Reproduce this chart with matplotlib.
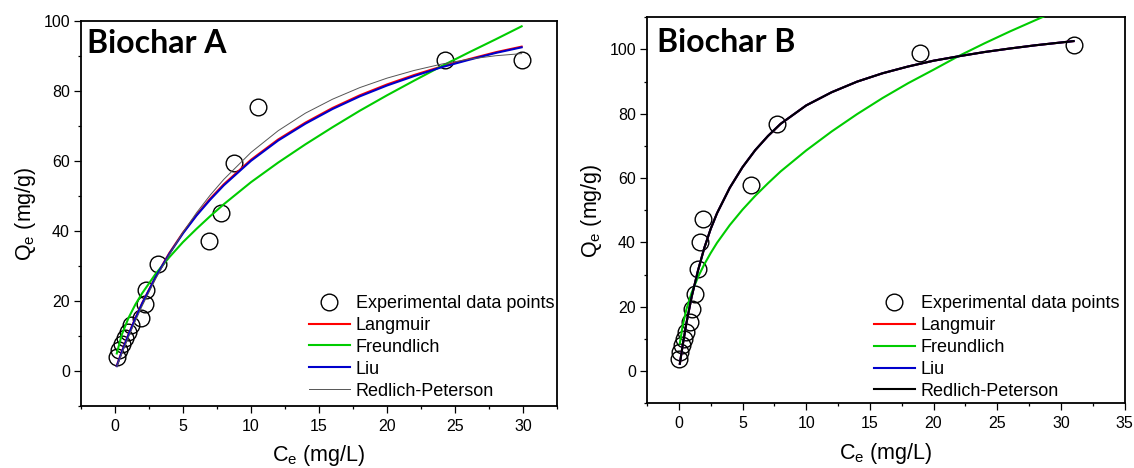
import matplotlib
matplotlib.use("Agg")
import matplotlib.pyplot as plt
from matplotlib.lines import Line2D
from matplotlib.ticker import MultipleLocator

plt.rcParams['font.family'] = ['Liberation Sans', 'DejaVu Sans']
plt.rcParams['mathtext.default'] = 'regular'

# ---------------- Biochar A ----------------
a_ce = [0.12, 0.30, 0.50, 0.73, 0.95, 1.20, 1.90, 2.20, 2.25, 3.17, 6.90, 7.82, 8.74, 10.50, 24.30, 29.90]
a_qe = [4.0, 5.9, 7.6, 9.3, 11.2, 13.2, 15.0, 19.0, 23.1, 30.6, 37.2, 45.0, 59.4, 75.4, 88.9, 88.9]

a_fit_x = [0.13, 0.5, 1, 1.5, 2, 3, 4, 5, 6, 7, 8, 10, 12, 14, 16, 18, 20, 22, 24, 26, 28, 29.9]
a_langmuir = [1.5, 5.5, 10.5, 15.1, 19.4, 27.0, 33.7, 39.5, 44.6, 49.2, 53.3, 60.3, 66.1, 70.9, 75.1, 78.7, 81.8, 84.5, 86.9, 89.0, 91.0, 92.6]
a_freundlich = [5.0, 10.4, 15.2, 19.0, 22.2, 27.8, 32.5, 36.8, 40.6, 44.2, 47.6, 53.9, 59.5, 64.7, 69.6, 74.3, 78.7, 82.9, 87.0, 90.9, 94.7, 98.4]
a_liu = [1.4, 5.4, 10.4, 15.0, 19.3, 26.9, 33.5, 39.3, 44.4, 48.9, 53.0, 60.0, 65.8, 70.6, 74.8, 78.4, 81.5, 84.2, 86.7, 88.8, 90.8, 92.4]
a_redlich = [1.2, 5.0, 9.8, 14.3, 18.6, 26.4, 33.3, 39.6, 45.2, 50.2, 54.7, 62.4, 68.6, 73.6, 77.6, 80.9, 83.6, 85.8, 87.6, 89.0, 90.0, 90.6]

# ---------------- Biochar B ----------------
b_ce = [0.05, 0.13, 0.25, 0.38, 0.56, 0.86, 1.05, 1.25, 1.48, 1.69, 1.92, 5.70, 7.68, 18.97, 31.05]
b_qe = [3.8, 5.9, 8.0, 10.0, 12.1, 15.2, 19.3, 23.9, 31.6, 40.2, 47.3, 57.9, 76.8, 99.0, 101.3]

b_fit_x = [0.08, 0.3, 0.6, 1.0, 1.5, 2.0, 2.5, 3.0, 4.0, 5.0, 6.0, 7.0, 8.0, 10, 12, 14, 16, 18, 20, 22, 24, 26, 28, 31]
b_langmuir = [2.3, 8.0, 15.0, 23.0, 31.2, 38.3, 44.2, 49.1, 57.0, 63.4, 68.7, 73.1, 76.9, 82.6, 86.7, 90.0, 92.6, 94.7, 96.5, 97.9, 99.2, 100.3, 101.3, 102.6]
b_freundlich = [8.6, 14.1, 19.3, 24.3, 29.2, 33.2, 36.7, 39.9, 45.4, 50.2, 54.5, 58.4, 62.1, 68.6, 74.5, 79.9, 84.9, 89.5, 93.7, 98.0, 101.9, 105.6, 109.1, 114.3]
b_liu = [2.3, 8.0, 15.0, 23.0, 31.2, 38.3, 44.2, 49.1, 57.0, 63.4, 68.7, 73.1, 76.9, 82.6, 86.7, 90.0, 92.6, 94.7, 96.5, 97.9, 99.2, 100.3, 101.3, 102.6]
b_redlich = [2.3, 8.0, 15.0, 23.0, 31.2, 38.3, 44.2, 49.1, 57.0, 63.4, 68.7, 73.1, 76.9, 82.6, 86.7, 90.0, 92.6, 94.7, 96.5, 97.9, 99.2, 100.3, 101.3, 102.6]

legend_labels = ["Experimental data points", "Langmuir", "Freundlich", "Liu", "Redlich-Peterson"]

fig = plt.figure(figsize=(11.34, 4.68), dpi=100)
ax1 = fig.add_axes([81 / 1134, 1 - 406 / 468, (557 - 81) / 1134, (406 - 20.7) / 468])
ax2 = fig.add_axes([647 / 1134, 1 - 403.3 / 468, (1124.5 - 647) / 1134, (403.3 - 17.3) / 468])


def draw(ax, ce, qe, fx, lang, freu, liu, rp, rp_color, rp_lw, title, ylim, xlim, title_xy, leg_xy):
    ax.plot(ce, qe, linestyle='none', marker='o', markersize=12, markerfacecolor='none',
            markeredgecolor='black', markeredgewidth=1.0, zorder=2)
    ax.plot(fx, lang, color='#ff0000', lw=1.5, zorder=3)
    ax.plot(fx, freu, color='#00cc00', lw=1.5, zorder=3)
    ax.plot(fx, liu, color='#0000cc', lw=1.5, zorder=4)
    ax.plot(fx, rp, color=rp_color, lw=rp_lw, zorder=5)
    ax.set_xlim(*xlim)
    ax.set_ylim(*ylim)
    ax.xaxis.set_major_locator(MultipleLocator(5))
    ax.xaxis.set_minor_locator(MultipleLocator(2.5))
    ax.yaxis.set_major_locator(MultipleLocator(20))
    ax.yaxis.set_minor_locator(MultipleLocator(10))
    ax.tick_params(axis='both', which='both', direction='out', top=False, right=False,
                   labelsize=11.5, width=0.9)
    ax.tick_params(axis='x', which='major', length=5, pad=4.5)
    ax.tick_params(axis='x', which='minor', length=2.5)
    ax.tick_params(axis='y', which='major', length=5, pad=3)
    ax.tick_params(axis='y', which='minor', length=2.5)
    for s in ax.spines.values():
        s.set_linewidth(1.3)
    ax.set_xlabel('C$_e$ (mg/L)', fontsize=15.5, labelpad=6.5)
    ax.set_ylabel('Q$_e$ (mg/g)', fontsize=15.5, labelpad=4)
    ax.text(title_xy[0], title_xy[1], title, transform=ax.transAxes, fontsize=23,
            fontweight='bold', family='Lato', va='baseline', ha='left')
    handles = [
        Line2D([], [], linestyle='none', marker='o', markersize=12, markerfacecolor='none',
               markeredgecolor='black', markeredgewidth=1.0),
        Line2D([], [], color='#ff0000', lw=1.5),
        Line2D([], [], color='#00cc00', lw=1.5),
        Line2D([], [], color='#0000cc', lw=1.5),
        Line2D([], [], color=rp_color, lw=rp_lw),
    ]
    ax.legend(handles, legend_labels, loc='upper left', bbox_to_anchor=leg_xy, frameon=False,
              fontsize=13, handlelength=2.27, handletextpad=0.33, labelspacing=0.27,
              borderpad=0, borderaxespad=0)


draw(ax1, a_ce, a_qe, a_fit_x, a_langmuir, a_freundlich, a_liu, a_redlich, '#555555', 0.7,
     'Biochar A', (-10, 100), (-2.5, 32.5), (0.012, 0.916), (0.479, 0.288))
draw(ax2, b_ce, b_qe, b_fit_x, b_langmuir, b_freundlich, b_liu, b_redlich, 'black', 1.5,
     'Biochar B', (-10, 110), (-2.5, 35), (0.020, 0.909), (0.475, 0.280))

fig.savefig('out.png', dpi=100)
